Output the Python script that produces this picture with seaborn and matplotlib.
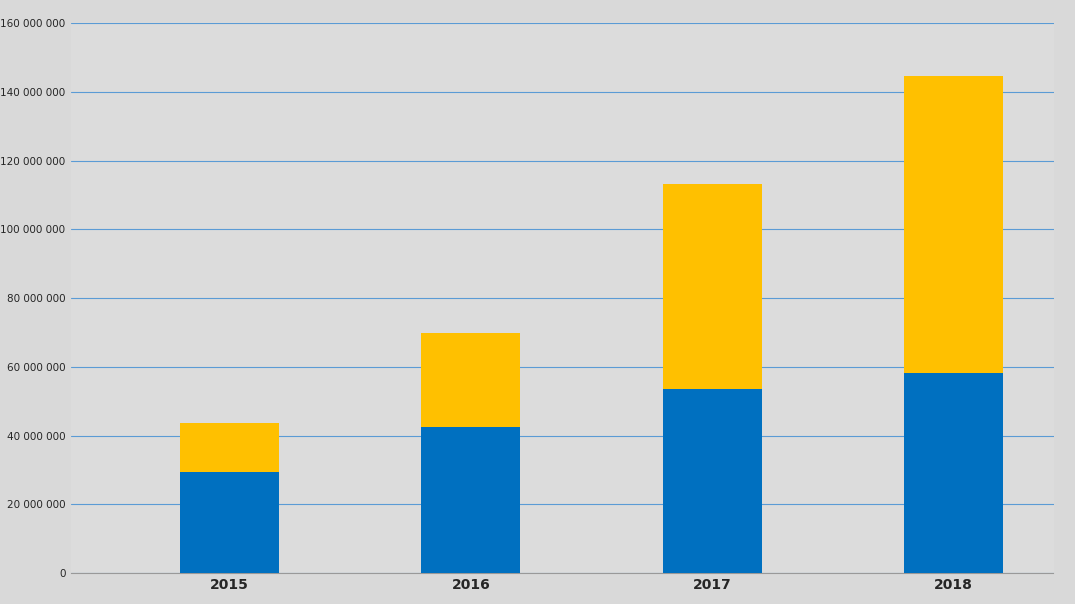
import matplotlib
matplotlib.use('Agg')
import matplotlib.pyplot as plt
import seaborn as sns
import pandas as pd
from matplotlib.ticker import FuncFormatter

years = ['2015', '2016', '2017', '2018']
blue_values = [29.4e6, 42.5e6, 53.5e6, 58.2e6]
total_values = [43.6e6, 69.8e6, 113.2e6, 144.6e6]

df = pd.DataFrame({'year': years, 'blue': blue_values, 'total': total_values})

sns.set_style('white')
fig, ax = plt.subplots(figsize=(10.75, 6.04), dpi=100)
fig.patch.set_facecolor('#d9d9d9')
ax.set_facecolor('#dcdcdc')

sns.barplot(data=df, x='year', y='total', color='#ffc000', width=0.41, saturation=1,
            linewidth=0, ax=ax, zorder=3)
sns.barplot(data=df, x='year', y='blue', color='#0070c0', width=0.41, saturation=1,
            linewidth=0, ax=ax, zorder=4)

ax.set_xlim(-0.657, 3.413)
ax.set_ylim(0, 160e6)
ax.set_yticks(range(0, 160000001, 20000000))
ax.yaxis.set_major_formatter(FuncFormatter(lambda v, p: f'{int(v):,}'.replace(',', ' ')))
ax.grid(axis='y', color='#5b9bd5', linewidth=0.8, zorder=0)
ax.set_axisbelow(True)
ax.set_xlabel('')
ax.set_ylabel('')
ax.tick_params(axis='y', labelsize=7.5, length=0, pad=4)
ax.tick_params(axis='x', length=0, labelsize=10)
for lbl in ax.get_xticklabels():
    lbl.set_fontweight('bold')
for s in ['top', 'right', 'left']:
    ax.spines[s].set_visible(False)
ax.spines['bottom'].set_color('#999999')

plt.subplots_adjust(left=0.066, right=0.98, top=0.962, bottom=0.051)
plt.savefig('out.png', dpi=100, facecolor=fig.get_facecolor())
